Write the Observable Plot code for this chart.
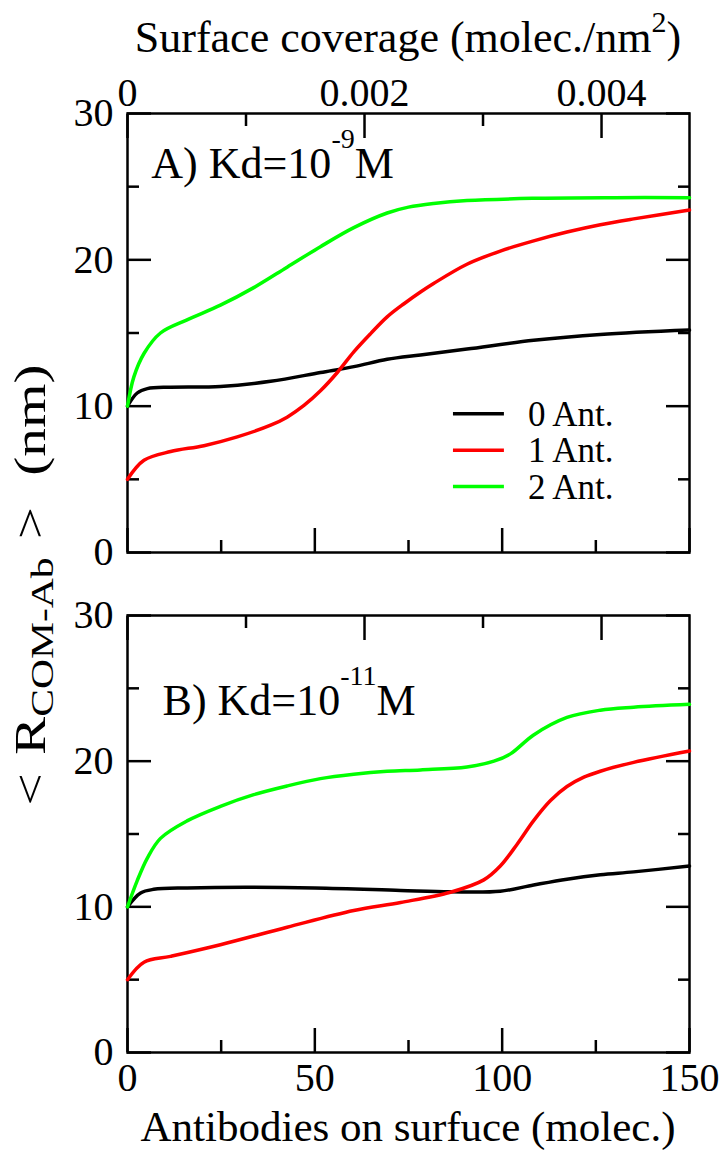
<!DOCTYPE html>
<html><head><meta charset="utf-8">
<script src="https://cdn.jsdelivr.net/npm/d3@7"></script>
<script src="https://cdn.jsdelivr.net/npm/@observablehq/plot@0.6"></script>
<style>
html,body{margin:0;padding:0;background:#fff;}
#wrap{position:relative;width:725px;height:1162px;}
#wrap svg{position:absolute;left:0;}
</style></head><body><div id="wrap"></div>
<script>
// ---------- data ----------
const seriesNames = ["0 Ant.", "1 Ant.", "2 Ant."];
const seriesColors = ["#000000", "#ff0000", "#00ff00"];

// Panel A: Kd = 1e-9 M
const a0N = [0, 2.6, 5.3, 11.5, 24.8, 38.2, 51.5, 60.4, 69.3, 78.2, 90.6, 108.4, 126.2, 150];
const a0R = [10, 10.9, 11.2, 11.3, 11.35, 11.7, 12.3, 12.7, 13.2, 13.5, 13.9, 14.5, 14.9, 15.2];
const a1N = [0, 4.4, 11.5, 20.4, 29.3, 38.2, 42.6, 47.1, 51.5, 56, 60.4, 64.9, 69.3, 73.8, 78.2, 81.8, 90.6, 99.5, 108.4, 117.3, 126.2, 135.1, 150];
const a1R = [5, 6.3, 6.9, 7.3, 7.9, 8.7, 9.25, 10.05, 11.05, 12.3, 13.71, 14.96, 16.1, 17.0, 17.8, 18.4, 19.7, 20.6, 21.3, 21.9, 22.4, 22.8, 23.4];
const a2N = [0, 1.7, 4.4, 8.8, 15.9, 24.8, 33.7, 42.6, 51.5, 60.4, 69.3, 75, 81.7, 90.6, 108, 130, 150];
const a2R = [10, 12.0, 13.6, 15.0, 15.9, 16.9, 18.1, 19.5, 20.9, 22.2, 23.2, 23.6, 23.85, 24.05, 24.2, 24.25, 24.25];

// Panel B: Kd = 1e-11 M
const b0N = [0, 3.5, 7, 15.9, 50, 72.9, 86.2, 99.5, 108.4, 117.3, 126.2, 135.1, 150];
const b0R = [10, 10.95, 11.2, 11.3, 11.3, 11.12, 11.03, 11.07, 11.5, 11.9, 12.2, 12.4, 12.8];
const b1N = [0, 4.4, 11.5, 24.8, 42.6, 60.4, 72.9, 86.2, 95.1, 99.5, 104, 108.4, 112.9, 117.3, 121.8, 126.2, 135.1, 150];
const b1R = [5, 6.2, 6.6, 7.4, 8.6, 9.75, 10.3, 11.0, 11.85, 12.8, 14.3, 15.92, 17.3, 18.26, 18.9, 19.31, 19.92, 20.7];
const b2N = [0, 2.6, 5.3, 8.8, 15.9, 24.8, 33.7, 42.6, 51.5, 60.4, 69.3, 78.2, 90.6, 97.8, 102.2, 108.4, 117.3, 126.2, 135.1, 150];
const b2R = [10, 11.8, 13.35, 14.7, 15.9, 16.9, 17.7, 18.3, 18.8, 19.1, 19.3, 19.4, 19.6, 20.0, 20.5, 21.8, 23.0, 23.5, 23.7, 23.9];

// axes
const xTicksMajor = [0, 50, 100, 150];
const xTicksMinor = [25, 75, 125];
const yTicksMajor = [0, 10, 20, 30];
const yTicksMinor = [5, 15, 25];
const covMajor = [0, 0.002, 0.004];
const covMinor = [0.001, 0.003];
const covLabels = ["0", "0.002", "0.004"];
const areaNm2 = 31630; // molecules per (molec./nm^2)

// ---------- drawing ----------
const FONT = '"Liberation Serif", "Times New Roman", serif';
const wrap = document.getElementById("wrap");
const rows = (N, R, s) => N.map((n, i) => ({n, r: R[i], s}));
const covMajorPos = covMajor.map(c => c * areaNm2);
const covMinorPos = covMinor.map(c => c * areaNm2);

function makePanel({data, height, marginTop, marginBottom, topLabels, bottomLabels}) {
  const tickOpts = {fill: "none", label: null, strokeWidth: 2.5};
  const marks = [
    Plot.axisY({...tickOpts, anchor: "left", ticks: yTicksMajor, tickSize: -24}),
    Plot.axisY({...tickOpts, anchor: "left", ticks: yTicksMinor, tickSize: -12}),
    Plot.axisY({...tickOpts, anchor: "right", ticks: yTicksMajor, tickSize: -24}),
    Plot.axisY({...tickOpts, anchor: "right", ticks: yTicksMinor, tickSize: -12}),
    Plot.axisX({...tickOpts, anchor: "bottom", ticks: xTicksMajor, tickSize: -24}),
    Plot.axisX({...tickOpts, anchor: "bottom", ticks: xTicksMinor, tickSize: -12}),
    Plot.axisX({...tickOpts, anchor: "top", ticks: covMajorPos, tickSize: -24}),
    Plot.axisX({...tickOpts, anchor: "top", ticks: covMinorPos, tickSize: -12}),
    Plot.axisY({anchor: "left", ticks: yTicksMajor, tickSize: 0, tickPadding: 14, label: null, fontSize: 40}),
    Plot.frame({strokeWidth: 2.5}),
    Plot.line(data, {x: "n", y: "r", z: "s", stroke: "s", strokeWidth: 3.5, curve: "catmull-rom"})
  ];
  if (topLabels) marks.push(Plot.axisX({anchor: "top", ticks: covMajorPos, tickSize: 0, tickPadding: 8, label: null, fontSize: 40,
    tickFormat: d => covLabels[covMajorPos.indexOf(d)]}));
  if (bottomLabels) marks.push(Plot.axisX({anchor: "bottom", ticks: xTicksMajor, tickSize: 0, tickPadding: 10, label: null, fontSize: 40}));
  return Plot.plot({
    width: 725, height, marginLeft: 127, marginRight: 36, marginTop, marginBottom,
    style: {fontFamily: FONT, fontSize: "40px", color: "black", background: "transparent", overflow: "visible"},
    x: {domain: [0, 150]},
    y: {domain: [0, 30]},
    color: {domain: seriesNames, range: seriesColors},
    marks
  });
}

function addText(svg, x, y, parts, size, anchor = "start", transform = null) {
  const t = d3.select(svg).append("text")
    .attr("x", x).attr("y", y)
    .attr("font-family", FONT).attr("font-size", size)
    .attr("text-anchor", anchor).attr("fill", "black");
  if (transform) t.attr("transform", transform);
  parts.forEach(p => {
    const s = t.append("tspan").text(p.t);
    if (p.size) s.attr("font-size", p.size);
    if (p.dy) s.attr("dy", p.dy);
    if (p.dx) s.attr("dx", p.dx);
  });
  return t;
}

const dataA = [...rows(a0N, a0R, seriesNames[0]), ...rows(a1N, a1R, seriesNames[1]), ...rows(a2N, a2R, seriesNames[2])];
const dataB = [...rows(b0N, b0R, seriesNames[0]), ...rows(b1N, b1R, seriesNames[1]), ...rows(b2N, b2R, seriesNames[2])];

const plotA = makePanel({data: dataA, height: 583, marginTop: 113, marginBottom: 31, topLabels: true, bottomLabels: false});
const plotB = makePanel({data: dataB, height: 579, marginTop: 32, marginBottom: 110, topLabels: false, bottomLabels: true});
plotA.style.top = "0px";
plotB.style.top = "583px";
wrap.appendChild(plotA);
wrap.appendChild(plotB);

// panel A annotations
{
  const xs = plotA.scale("x"), ys = plotA.scale("y");
  addText(plotA, xs.apply(6.5), ys.apply(25.56), [
    {t: "A) Kd=10"}, {t: "-9", size: 28, dy: -30}, {t: "M", dy: 30}
  ], 44);
  // legend
  const legX1 = 87, legX2 = 100.6, legTX = 107, legY = [9.45, 6.96, 4.47];
  seriesNames.forEach((name, i) => {
    d3.select(plotA).append("line")
      .attr("x1", xs.apply(legX1)).attr("x2", xs.apply(legX2))
      .attr("y1", ys.apply(legY[i])).attr("y2", ys.apply(legY[i]))
      .attr("stroke", seriesColors[i]).attr("stroke-width", 3.5);
    addText(plotA, xs.apply(legTX), ys.apply(legY[i]) + 12, [{t: name}], 35);
  });
  // top axis title
  addText(plotA, (xs.apply(0) + xs.apply(150)) / 2, 52, [
    {t: "Surface coverage (molec./nm"}, {t: "2", size: 30, dy: -20}, {t: ")", dy: 20}
  ], 44, "middle");
}
// panel B annotations
{
  const xs = plotB.scale("x"), ys = plotB.scale("y");
  addText(plotB, xs.apply(9.5), ys.apply(23.15), [
    {t: "B) Kd=10"}, {t: "-11", size: 28, dy: -30}, {t: "M", dy: 30}
  ], 44);
  addText(plotB, (xs.apply(0) + xs.apply(150)) / 2, 558, [
    {t: "Antibodies on surfuce (molec.)"}
  ], 43, "middle");
}
// y axis title spanning both panels
{
  const svg = d3.create("svg").attr("width", 90).attr("height", 1162)
    .style("top", "0px").style("pointer-events", "none").style("overflow", "visible");
  addText(svg.node(), 0, 0, [
    {t: "<"}, {t: "R", dx: 14}, {t: "COM-Ab", size: 32, dy: 8}, {t: ">", dy: -8, dx: 14}, {t: "(nm)", dx: 24}
  ], 44, "middle", "translate(45,585) rotate(-90) scale(1.3,1)");
  wrap.appendChild(svg.node());
}
</script></body></html>
